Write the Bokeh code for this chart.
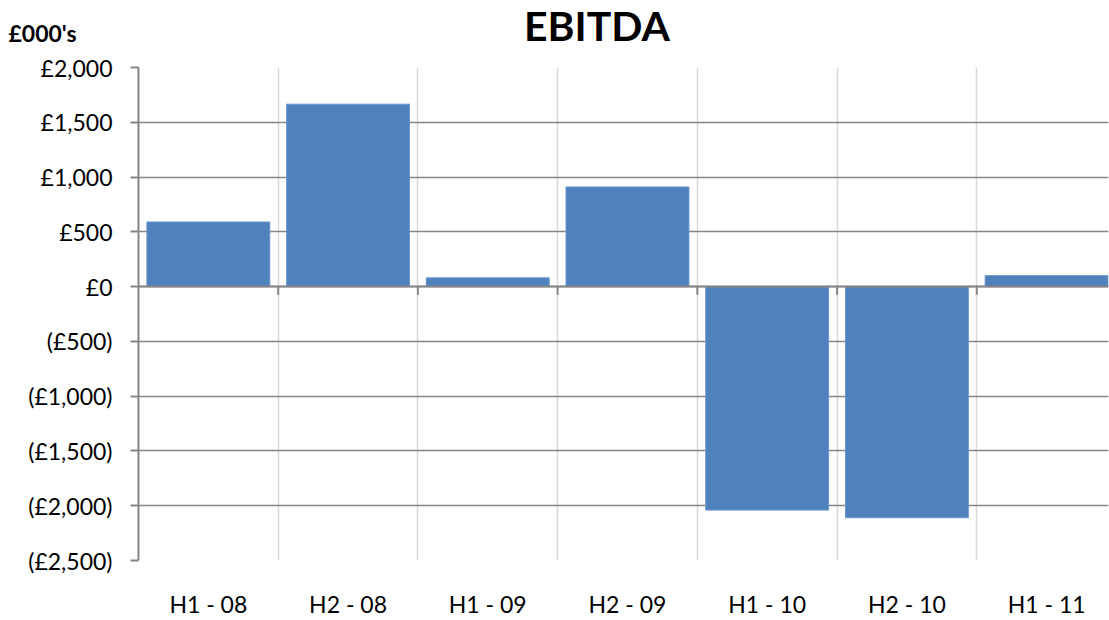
from bokeh.plotting import figure
from bokeh.models import Range1d, FixedTicker, Span, Label
from bokeh.embed import file_html
from bokeh.resources import INLINE

categories = ["H1 - 08", "H2 - 08", "H1 - 09", "H2 - 09", "H1 - 10", "H2 - 10", "H1 - 11"]
ebitda = [590, 1665, 80, 910, -2040, -2110, 100]
y_ticks = [-2500, -2000, -1500, -1000, -500, 0, 500, 1000, 1500, 2000]
title_text = "EBITDA"
unit_text = "£000's"

FONT = "Lato"
BAR = "#4f81bd"
GRID = "#868686"
VGRID = "#d9d9d9"

def fmt(v):
    if v < 0:
        return "(£{:,})".format(-v)
    return "£{:,}".format(v)

n = len(categories)
centers = [i + 0.5 for i in range(n)]
bounds = list(range(0, n + 1))

# ---- header strip (title + unit label) ----
W, HEAD = 1109, 50
head = figure(width=W, height=HEAD, output_backend="svg", toolbar_location=None,
              x_range=Range1d(0, W), y_range=Range1d(0, HEAD),
              min_border=0, x_axis_type=None, y_axis_type=None)
head.outline_line_color = None
head.xgrid.visible = False
head.ygrid.visible = False
head.add_layout(Label(x=596.5, y=HEAD - 25, text=title_text,
                      text_font=FONT, text_font_size="41px", text_font_style="bold",
                      text_align="center", text_baseline="alphabetic", text_color="#000000"))
head.add_layout(Label(x=8, y=HEAD - 32, text=unit_text,
                      text_font=FONT, text_font_size="23px", text_font_style="bold",
                      text_align="left", text_baseline="alphabetic", text_color="#000000"))

# ---- main chart ----
p = figure(width=W, height=620 - HEAD, output_backend="svg", toolbar_location=None,
           x_range=Range1d(0, n - 0.057), y_range=Range1d(min(y_ticks), max(y_ticks)),
           min_border_left=138, min_border_right=1, min_border_top=17, min_border_bottom=57)
p.outline_line_color = None
p.background_fill_color = "white"
p.border_fill_color = "white"

p.xgrid.ticker = FixedTicker(ticks=bounds[1:-1])
p.xgrid.grid_line_color = VGRID
p.xgrid.grid_line_width = 1.5
p.ygrid.ticker = FixedTicker(ticks=y_ticks)
p.ygrid.grid_line_color = GRID
p.ygrid.grid_line_width = 1.5

p.vbar(x=centers, top=ebitda, bottom=0, width=0.88, fill_color=BAR, line_color="#6b97cc", line_width=1)

# category tick marks hanging from the zero line
p.segment(x0=bounds[1:-1], x1=bounds[1:-1], y0=[0] * (n - 1), y1=[-75] * (n - 1),
          line_color=GRID, line_width=2)
p.add_layout(Span(location=0, dimension="width", line_color=GRID, line_width=2, level="overlay"))

ya = p.yaxis[0]
ya.ticker = FixedTicker(ticks=y_ticks)
ya.major_label_overrides = {v: fmt(v) for v in y_ticks}
ya.axis_line_color = GRID
ya.axis_line_width = 2
ya.major_tick_line_color = GRID
ya.major_tick_line_width = 2
ya.major_tick_in = 0
ya.major_tick_out = 8
ya.minor_tick_line_color = None
ya.major_label_standoff = 18
ya.major_label_text_font = FONT
ya.major_label_text_font_size = "23px"
ya.major_label_text_color = "#000000"

xa = p.xaxis[0]
xa.ticker = FixedTicker(ticks=centers)
xa.major_label_overrides = {c: lab for c, lab in zip(centers, categories)}
xa.axis_line_color = None
xa.major_tick_line_color = None
xa.minor_tick_line_color = None
xa.major_label_standoff = 23
xa.major_label_text_font = FONT
xa.major_label_text_font_size = "23px"
xa.major_label_text_color = "#000000"

open("out.html", "w").write(file_html([head, p], INLINE))
